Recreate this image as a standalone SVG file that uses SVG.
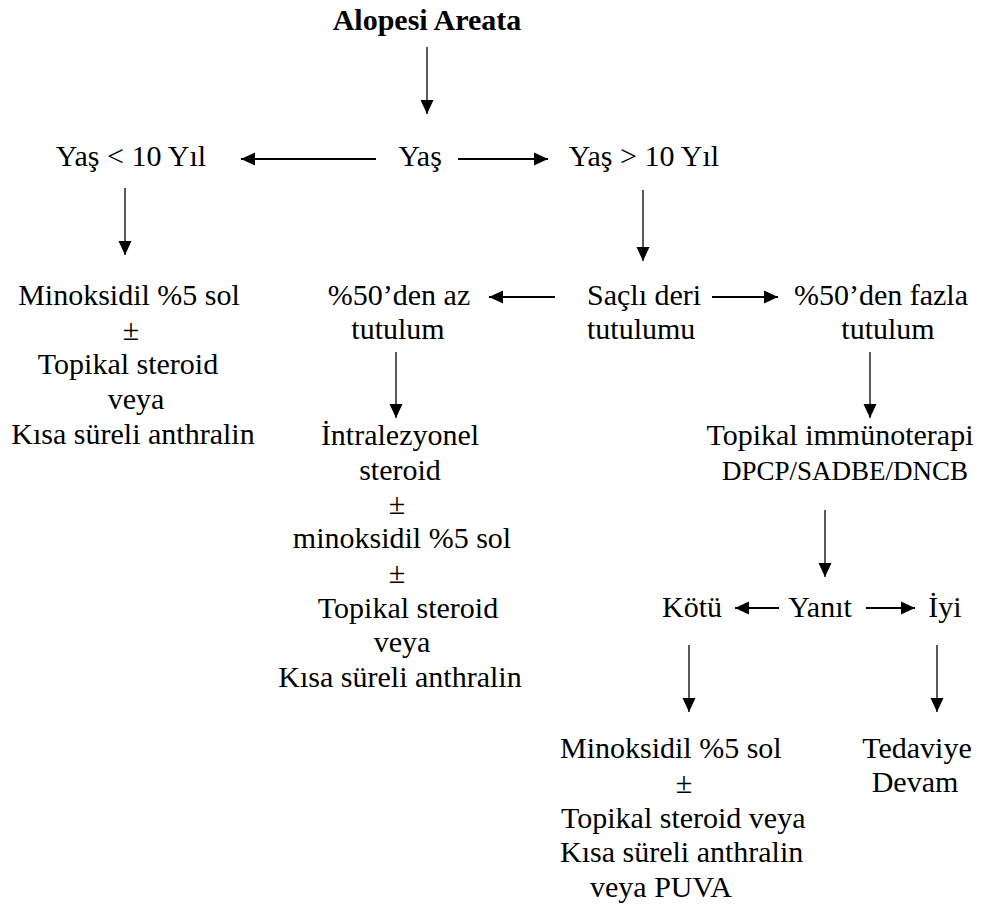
<svg xmlns="http://www.w3.org/2000/svg" width="984" height="906" viewBox="0 0 984 906">
<style>
text{font-family:"Liberation Serif","Times New Roman",serif;font-size:30px;fill:#000;text-anchor:middle}
.b{font-weight:bold}
.s{font-size:27px}
.st{text-anchor:start}
.h{stroke:#000;stroke-width:2;fill:none}
.v{stroke:#000;stroke-width:1.3;fill:none}
</style>
<defs>
<marker id="ah" viewBox="0 0 14 14" refX="14" refY="7" markerUnits="userSpaceOnUse" markerWidth="14" markerHeight="14" orient="auto">
<path d="M0,0.5 L14,7 L0,13.5 Z" fill="#000"/>
</marker>
</defs>
<rect width="984" height="906" fill="#fff"/>
<g id="connectors">
<line class="v" x1="427" y1="47" x2="427" y2="114" marker-end="url(#ah)"/>
<line class="h" x1="376" y1="159" x2="241" y2="159" marker-end="url(#ah)"/>
<line class="h" x1="458" y1="159" x2="548" y2="159" marker-end="url(#ah)"/>
<line class="v" x1="125" y1="188" x2="125" y2="255" marker-end="url(#ah)"/>
<line class="v" x1="643" y1="190" x2="643" y2="261" marker-end="url(#ah)"/>
<line class="h" x1="555" y1="297" x2="489" y2="297" marker-end="url(#ah)"/>
<line class="h" x1="712" y1="297" x2="778" y2="297" marker-end="url(#ah)"/>
<line class="v" x1="396" y1="352" x2="396" y2="418" marker-end="url(#ah)"/>
<line class="v" x1="870" y1="352" x2="870" y2="418" marker-end="url(#ah)"/>
<line class="v" x1="825" y1="510" x2="825" y2="577" marker-end="url(#ah)"/>
<line class="h" x1="779" y1="608" x2="735" y2="608" marker-end="url(#ah)"/>
<line class="h" x1="866" y1="608" x2="915" y2="608" marker-end="url(#ah)"/>
<line class="v" x1="689" y1="645" x2="689" y2="712" marker-end="url(#ah)"/>
<line class="v" x1="937" y1="645" x2="937" y2="712" marker-end="url(#ah)"/>
</g>
<g id="n-alopesi"><text class="b" x="427" y="30">Alopesi Areata</text></g>
<g id="n-yas"><text x="420" y="166">Yaş</text></g>
<g id="n-yas-lt"><text x="131" y="166">Yaş &lt; 10 Yıl</text></g>
<g id="n-yas-gt"><text x="644" y="166">Yaş &gt; 10 Yıl</text></g>
<g id="n-left-treat">
<text x="129" y="305">Minoksidil %5 sol</text>
<text x="131" y="340">±</text>
<text x="128" y="374">Topikal steroid</text>
<text x="136" y="409">veya</text>
<text x="133" y="444">Kısa süreli anthralin</text>
</g>
<g id="n-sacli"><text class="st" x="587" y="305">Saçlı deri</text><text class="st" x="587" y="339">tutulumu</text></g>
<g id="n-az"><text x="399" y="305">%50’den az</text><text x="398" y="339">tutulum</text></g>
<g id="n-fazla"><text x="881" y="305">%50’den fazla</text><text x="888" y="339">tutulum</text></g>
<g id="n-mid-treat">
<text x="400" y="445">İntralezyonel</text>
<text x="400" y="480">steroid</text>
<text x="397" y="514">±</text>
<text x="402" y="548">minoksidil %5 sol</text>
<text x="397" y="583">±</text>
<text x="408" y="618">Topikal steroid</text>
<text x="402" y="652">veya</text>
<text x="400" y="687">Kısa süreli anthralin</text>
</g>
<g id="n-immuno"><text x="840" y="445">Topikal immünoterapi</text><text class="s" x="845" y="480">DPCP/SADBE/DNCB</text></g>
<g id="n-kotu"><text x="692" y="617">Kötü</text></g>
<g id="n-yanit"><text x="820" y="617">Yanıt</text></g>
<g id="n-iyi"><text x="945" y="617">İyi</text></g>
<g id="n-bottom-treat">
<text class="st" x="560" y="758">Minoksidil %5 sol</text>
<text x="684" y="793">±</text>
<text class="st" x="561" y="828">Topikal steroid veya</text>
<text class="st" x="560" y="862">Kısa süreli anthralin</text>
<text class="st" x="590" y="897">veya PUVA</text>
</g>
<g id="n-devam"><text x="917" y="758">Tedaviye</text><text x="915" y="792">Devam</text></g>
</svg>
